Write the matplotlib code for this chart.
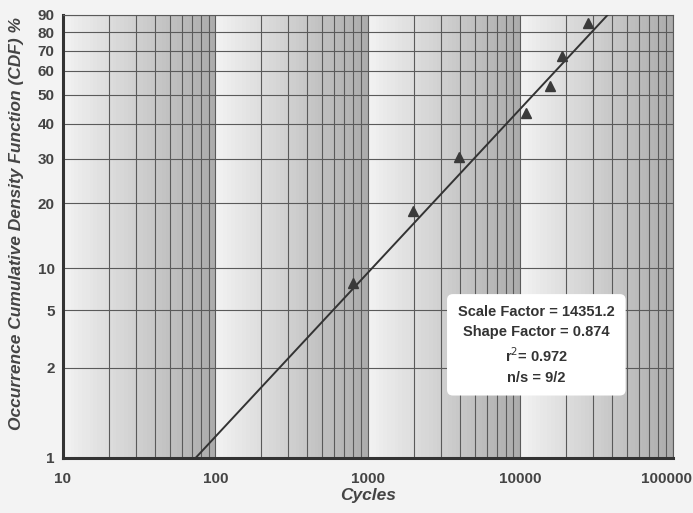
import numpy as np
import matplotlib
matplotlib.use("Agg")
import matplotlib.pyplot as plt
from matplotlib.ticker import FixedLocator, NullFormatter, NullLocator
from matplotlib.transforms import ScaledTranslation

# ---- data ----
cycles = [800, 1960, 3970, 10800, 15500, 18700, 27900]
cdf_pct = [7.8, 18.5, 30.6, 43.5, 53.7, 67.4, 85.6]
scale_factor = 14351.2
shape_factor = 0.874
r2 = 0.972
ns_label = "9/2"
line_pct = [1, 90]

y_ticks = [1, 2, 5, 10, 20, 30, 40, 50, 60, 70, 80, 90]
x_ticks = [10, 100, 1000, 10000, 100000]
x_tick_labels = ["10", "100", "1000", "10000", "100000"]

# axis geometry of the printed probability paper (fraction of height per gridline)
paper_pos = [0.0, 0.2033, 0.333, 0.4278, 0.5747, 0.6747, 0.7545, 0.8193,
             0.8735, 0.9194, 0.9609, 1.0]


def wb(p):
    p = np.clip(np.asarray(p, dtype=float), 1e-3, 99.999) / 100.0
    return np.log(-np.log(1 - p))


def wb_inv(w):
    return 100.0 * (1 - np.exp(-np.exp(np.asarray(w, dtype=float))))


W_T = wb(y_ticks)


def fwd(p):
    return np.interp(wb(p), W_T, paper_pos)


def inv(v):
    return wb_inv(np.interp(v, paper_pos, W_T))


FONT = ["Liberation Sans", "DejaVu Sans"]

fig = plt.figure(figsize=(6.93, 5.13), dpi=100, facecolor="#f3f3f3")
ax = fig.add_axes([0.0909, 0.1078, 0.8802, 0.863])
ax.set_facecolor("#f3f3f3")
ax.set_xscale("log")
ax.set_yscale("function", functions=(fwd, inv))
ax.set_xlim(10, 100000)
ax.set_ylim(1, 90)

# decade gradient shading
N = 40
for d in range(1, 5):
    for k in range(N):
        x0 = 10 ** (d + k / N)
        x1 = 10 ** (d + (k + 1) / N)
        g = 0.95 - 0.28 * (k + 0.5) / N
        ax.axvspan(x0, x1, color=(g, g, g), lw=0, zorder=0)

# grid
gcol = "#5a5a5a"
ax.yaxis.set_major_locator(FixedLocator(y_ticks))
ax.yaxis.set_minor_locator(NullLocator())
ax.set_yticklabels([str(t) for t in y_ticks])
ax.xaxis.set_major_locator(FixedLocator(x_ticks))
ax.set_xticklabels(x_tick_labels)
minors = [m * 10 ** d for d in range(1, 5) for m in range(2, 10)]
ax.xaxis.set_minor_locator(FixedLocator(minors))
ax.xaxis.set_minor_formatter(NullFormatter())
ax.grid(True, which="both", axis="x", color=gcol, lw=0.8, zorder=0.5)
ax.grid(True, which="major", axis="y", color=gcol, lw=0.8, zorder=0.5)
ax.set_axisbelow(True)

# fitted Weibull line
line_x = [scale_factor * (-np.log(1 - p / 100.0)) ** (1 / shape_factor) for p in line_pct]
ax.plot(line_x, line_pct, color="#333333", lw=1.4, zorder=3, clip_on=True)

# data points
ax.plot(cycles, cdf_pct, linestyle="none", marker="^", markersize=7.5,
        color="#3a3a3a", zorder=4)

# spines
for s in ["left", "bottom"]:
    ax.spines[s].set_linewidth(2.2)
    ax.spines[s].set_color("#333333")
for s in ["top", "right"]:
    ax.spines[s].set_linewidth(0.8)
    ax.spines[s].set_color(gcol)

ax.tick_params(which="both", length=0, colors="#444444")
ax.tick_params(axis="x", pad=10)
ax.tick_params(axis="y", pad=6)
for lab in ax.get_xticklabels() + ax.get_yticklabels():
    lab.set_fontfamily(FONT)
    lab.set_fontweight("bold")
    lab.set_fontsize(11)
    lab.set_color("#444444")
last = ax.get_xticklabels()[-1]
last.set_transform(last.get_transform() + ScaledTranslation(-5 / 72, 0, fig.dpi_scale_trans))

ax.set_xlabel("Cycles", fontsize=12.5, fontweight="bold", fontstyle="italic",
              color="#444444", family=FONT)
ax.xaxis.set_label_coords(0.5, -0.068)
ax.set_ylabel("Occurrence Cumulative Density Function (CDF) %", fontsize=12.5,
              fontweight="bold", fontstyle="italic", color="#444444", family=FONT)
ax.yaxis.set_label_coords(-0.064, 0.529)

txt = (f"Scale Factor = {scale_factor}\nShape Factor = {shape_factor}\n"
       f"r$^{{2}}$= {r2}\nn/s = {ns_label}")
ax.text(0.776, 0.255, txt, transform=ax.transAxes, ha="center", va="center",
        fontsize=10.5, fontweight="bold", color="#333333",
        family=["Liberation Sans Narrow", "Liberation Sans", "DejaVu Sans"],
        linespacing=1.5, zorder=6,
        bbox=dict(boxstyle="round,pad=0.75,rounding_size=0.4", fc="white", ec="none"))

fig.savefig("out.png", dpi=100, facecolor=fig.get_facecolor())
